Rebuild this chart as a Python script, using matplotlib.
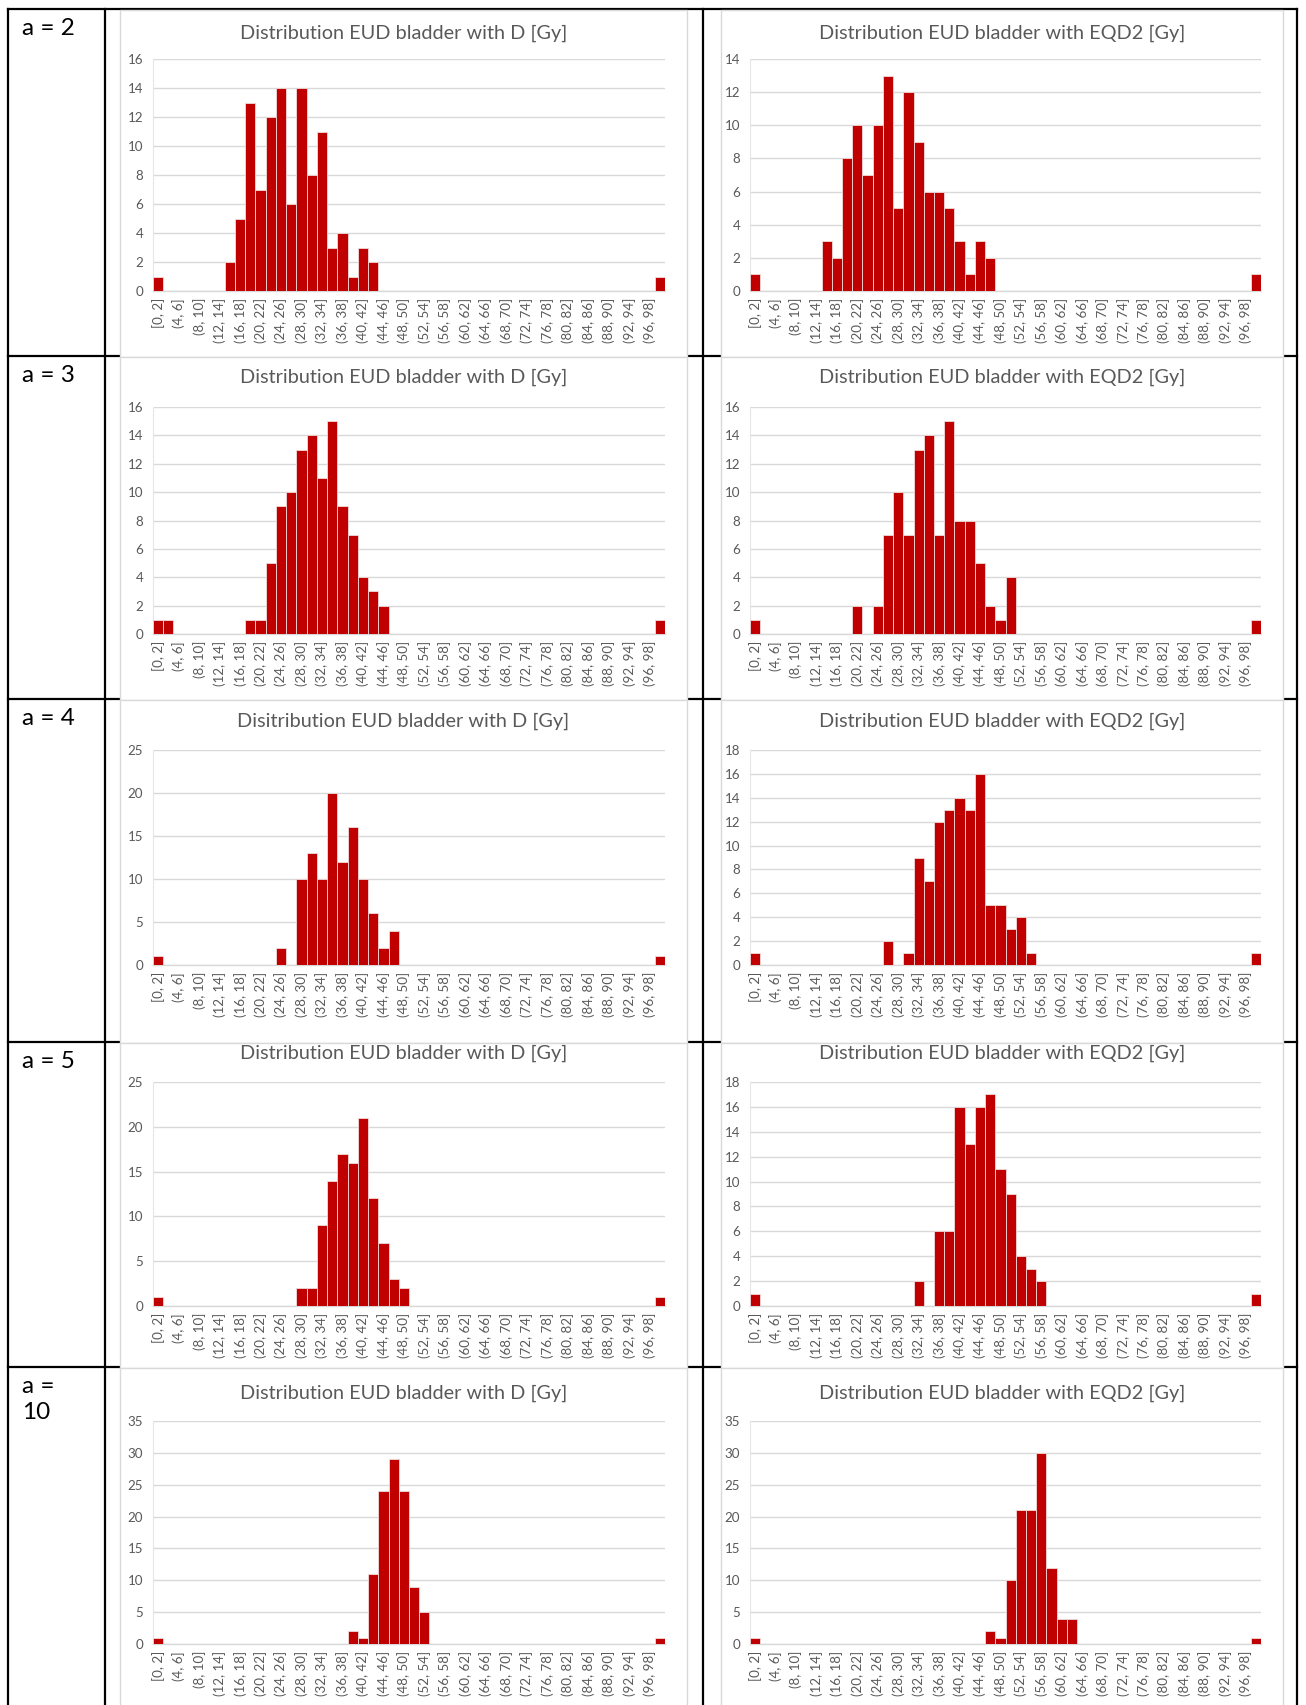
import matplotlib.pyplot as plt
from matplotlib.patches import Rectangle
from matplotlib.lines import Line2D

plt.rcParams['font.family'] = ['Lato', 'DejaVu Sans']

# bins of 2 Gy, 0..100
bin_labels = ["[0, 2]"] + [f"({lo}, {lo + 2}]" for lo in range(2, 100, 2)]

row_labels = ["a = 2", "a = 3", "a = 4", "a = 5", "a =\n10"]

title_d = ["Distribution EUD bladder with D [Gy]",
           "Distribution EUD bladder with D [Gy]",
           "Disitribution EUD bladder with D [Gy]",
           "Distribution EUD bladder with D [Gy]",
           "Distribution EUD bladder with D [Gy]"]
title_eqd2 = "Distribution EUD bladder with EQD2 [Gy]"

# counts per bin, EUD with D
d_a2 = [1, 0, 0, 0, 0, 0, 0, 2, 5, 13,
        7, 12, 14, 6, 14, 8, 11, 3, 4, 1,
        3, 2, 0, 0, 0, 0, 0, 0, 0, 0,
        0, 0, 0, 0, 0, 0, 0, 0, 0, 0,
        0, 0, 0, 0, 0, 0, 0, 0, 0, 1]
d_a3 = [1, 1, 0, 0, 0, 0, 0, 0, 0, 1,
        1, 5, 9, 10, 13, 14, 11, 15, 9, 7,
        4, 3, 2, 0, 0, 0, 0, 0, 0, 0,
        0, 0, 0, 0, 0, 0, 0, 0, 0, 0,
        0, 0, 0, 0, 0, 0, 0, 0, 0, 1]
d_a4 = [1, 0, 0, 0, 0, 0, 0, 0, 0, 0,
        0, 0, 2, 0, 10, 13, 10, 20, 12, 16,
        10, 6, 2, 4, 0, 0, 0, 0, 0, 0,
        0, 0, 0, 0, 0, 0, 0, 0, 0, 0,
        0, 0, 0, 0, 0, 0, 0, 0, 0, 1]
d_a5 = [1, 0, 0, 0, 0, 0, 0, 0, 0, 0,
        0, 0, 0, 0, 2, 2, 9, 14, 17, 16,
        21, 12, 7, 3, 2, 0, 0, 0, 0, 0,
        0, 0, 0, 0, 0, 0, 0, 0, 0, 0,
        0, 0, 0, 0, 0, 0, 0, 0, 0, 1]
d_a10 = [1, 0, 0, 0, 0, 0, 0, 0, 0, 0,
         0, 0, 0, 0, 0, 0, 0, 0, 0, 2,
         1, 11, 24, 29, 24, 9, 5, 0, 0, 0,
         0, 0, 0, 0, 0, 0, 0, 0, 0, 0,
         0, 0, 0, 0, 0, 0, 0, 0, 0, 1]

# counts per bin, EUD with EQD2
eqd2_a2 = [1, 0, 0, 0, 0, 0, 0, 3, 2, 8,
           10, 7, 10, 13, 5, 12, 9, 6, 6, 5,
           3, 1, 3, 2, 0, 0, 0, 0, 0, 0,
           0, 0, 0, 0, 0, 0, 0, 0, 0, 0,
           0, 0, 0, 0, 0, 0, 0, 0, 0, 1]
eqd2_a3 = [1, 0, 0, 0, 0, 0, 0, 0, 0, 0,
           2, 0, 2, 7, 10, 7, 13, 14, 7, 15,
           8, 8, 5, 2, 1, 4, 0, 0, 0, 0,
           0, 0, 0, 0, 0, 0, 0, 0, 0, 0,
           0, 0, 0, 0, 0, 0, 0, 0, 0, 1]
eqd2_a4 = [1, 0, 0, 0, 0, 0, 0, 0, 0, 0,
           0, 0, 0, 2, 0, 1, 9, 7, 12, 13,
           14, 13, 16, 5, 5, 3, 4, 1, 0, 0,
           0, 0, 0, 0, 0, 0, 0, 0, 0, 0,
           0, 0, 0, 0, 0, 0, 0, 0, 0, 1]
eqd2_a5 = [1, 0, 0, 0, 0, 0, 0, 0, 0, 0,
           0, 0, 0, 0, 0, 0, 2, 0, 6, 6,
           16, 13, 16, 17, 11, 9, 4, 3, 2, 0,
           0, 0, 0, 0, 0, 0, 0, 0, 0, 0,
           0, 0, 0, 0, 0, 0, 0, 0, 0, 1]
eqd2_a10 = [1, 0, 0, 0, 0, 0, 0, 0, 0, 0,
            0, 0, 0, 0, 0, 0, 0, 0, 0, 0,
            0, 0, 0, 2, 1, 10, 21, 21, 30, 12,
            4, 4, 0, 0, 0, 0, 0, 0, 0, 0,
            0, 0, 0, 0, 0, 0, 0, 0, 0, 1]

d_counts = [d_a2, d_a3, d_a4, d_a5, d_a10]
eqd2_counts = [eqd2_a2, eqd2_a3, eqd2_a4, eqd2_a5, eqd2_a10]

d_ymax = [16, 16, 25, 25, 35]
d_step = [2, 2, 5, 5, 5]
eqd2_ymax = [14, 16, 18, 18, 35]
eqd2_step = [2, 2, 2, 2, 5]

# layout in pixels (figure is 1306 x 1705)
W, H = 1306, 1705
row_top = [9, 356, 699, 1042, 1367]
row_bottom = [356, 699, 1042, 1367, 1720]
title_y = [33, 377, 721, 1053, 1393]
plot_top = [59, 407, 750, 1082, 1421]
plot_zero = [291, 634, 965, 1306, 1644]
left_box = (120, 687)
right_box = (721, 1283)
left_plot = (153, 665)
right_plot = (750, 1261)
col_lines = [8, 105, 703, 1297]

bar_color = '#C00000'
text_color = '#595959'
grid_color = '#D9D9D9'


def fx(x):
    return x / W


def fy(y):
    return 1 - y / H


fig = plt.figure(figsize=(W / 100, H / 100), dpi=100)

# table lines
for x in col_lines:
    fig.add_artist(Line2D([fx(x), fx(x)], [fy(row_top[0]), 0], color='black',
                          lw=1.6, zorder=1, transform=fig.transFigure))
for y in row_top:
    fig.add_artist(Line2D([fx(col_lines[0]), fx(col_lines[-1])], [fy(y), fy(y)],
                          color='black', lw=1.6, zorder=1, transform=fig.transFigure))


def draw_chart(r, box, plot, title, counts, ymax, step):
    # chart area box
    fig.add_artist(Rectangle((fx(box[0]), fy(row_bottom[r] + 1)),
                             fx(box[1] - box[0]), (row_bottom[r] + 1 - row_top[r] - 1) / H,
                             facecolor='white', edgecolor=grid_color, lw=1,
                             zorder=2, transform=fig.transFigure))
    fig.text(fx((box[0] + box[1]) / 2), fy(title_y[r]), title, ha='center', va='center',
             fontsize=14.3, color=text_color, zorder=4)
    ax = fig.add_axes([fx(plot[0]), fy(plot_zero[r]), fx(plot[1] - plot[0]),
                       (plot_zero[r] - plot_top[r]) / H], zorder=3)
    ax.set_facecolor('none')
    ax.bar(range(len(counts)), counts, width=1, color=bar_color,
           edgecolor='#F2DADA', linewidth=0.6, zorder=3)
    ax.set_xlim(-0.5, len(counts) - 0.5)
    ax.set_ylim(0, ymax)
    ax.set_yticks(range(0, ymax + 1, step))
    ax.set_xticks(range(0, len(counts), 2))
    ax.set_xticklabels(bin_labels[::2], rotation=90)
    ax.tick_params(length=0, labelsize=9.6, colors=text_color)
    ax.tick_params(axis='x', pad=5)
    ax.tick_params(axis='y', pad=7)
    ax.grid(axis='y', color=grid_color, lw=1)
    ax.set_axisbelow(True)
    for s in ['top', 'right']:
        ax.spines[s].set_visible(False)
    ax.spines['left'].set_color('#E6E6E6')
    ax.spines['bottom'].set_color(grid_color)
    ax.spines['left'].set_linewidth(0.8)
    ax.spines['bottom'].set_linewidth(1)


for r in range(5):
    fig.text(fx(22), fy(row_top[r] + 9), row_labels[r], ha='left', va='top',
             fontsize=17.5, color='black', linespacing=1.3, zorder=4)
    draw_chart(r, left_box, left_plot, title_d[r], d_counts[r], d_ymax[r], d_step[r])
    draw_chart(r, right_box, right_plot, title_eqd2, eqd2_counts[r], eqd2_ymax[r], eqd2_step[r])

fig.savefig('out.png', dpi=100, facecolor='white')
